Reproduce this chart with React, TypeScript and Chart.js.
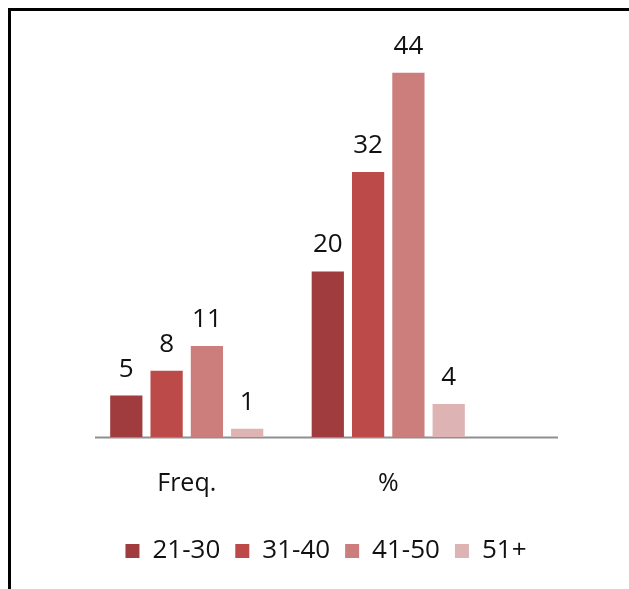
import React, { useEffect, useRef } from "react";
import { Chart, registerables } from "chart.js";

Chart.register(...registerables);

const categories = ["Freq.", "%"];
const seriesLabels = ["21-30", "31-40", "41-50", "51+"];
const series2130 = [5, 20];
const series3140 = [8, 32];
const series4150 = [11, 44];
const series51 = [1, 4];
const seriesValues = [series2130, series3140, series4150, series51];
const seriesColors = ["#A03C3E", "#BC4A48", "#CC7E7D", "#DDB3B3"];
const yMax = 50;

const FONT = "'Open Sans', 'Noto Sans', sans-serif";

const baselinePlugin = {
  id: "baseline",
  beforeDatasetsDraw(chart: any) {
    const { ctx, chartArea, scales } = chart;
    const y = Math.round(scales.y.getPixelForValue(0)) + 0.5;
    ctx.save();
    ctx.strokeStyle = "#8f8f8f";
    ctx.lineWidth = 2;
    ctx.beginPath();
    ctx.moveTo(chartArea.left + 9, y);
    ctx.lineTo(chartArea.right + 69, y);
    ctx.stroke();
    ctx.restore();
  },
};

const valueLabelPlugin = {
  id: "valueLabels",
  afterDatasetsDraw(chart: any) {
    const { ctx } = chart;
    ctx.save();
    ctx.fillStyle = "#111";
    ctx.font = `26px ${FONT}`;
    ctx.textAlign = "center";
    ctx.textBaseline = "alphabetic";
    chart.data.datasets.forEach((ds: any, i: number) => {
      const meta = chart.getDatasetMeta(i);
      meta.data.forEach((el: any, j: number) => {
        ctx.fillText(String(ds.data[j]), el.x, el.y - 19);
      });
    });
    ctx.restore();
  },
};

export default function App() {
  const canvasRef = useRef<HTMLCanvasElement | null>(null);

  useEffect(() => {
    if (!canvasRef.current) return;
    const chart = new Chart(canvasRef.current, {
      type: "bar",
      data: {
        labels: categories,
        datasets: seriesLabels.map((label, i) => ({
          label,
          data: seriesValues[i],
          backgroundColor: seriesColors[i],
          borderWidth: 0,
          barPercentage: 0.8,
          categoryPercentage: 0.8,
          yAxisID: "y",
        })),
      },
      options: {
        animation: false,
        responsive: false,
        devicePixelRatio: 1,
        layout: { padding: { left: 12, right: 0, top: 12, bottom: 15 } },
        plugins: {
          legend: {
            position: "bottom",
            labels: {
              boxWidth: 14,
              boxHeight: 14,
              padding: 15,
              color: "#111",
              font: { family: FONT, size: 26 },
            },
          },
          tooltip: { enabled: false },
          title: { display: false },
        },
        scales: {
          x: {
            grid: { display: false },
            border: { display: false },
            ticks: { color: "#111", font: { family: FONT, size: 25 }, padding: 24 },
          },
          y: {
            min: 0,
            max: yMax,
            ticks: { display: false },
            grid: { display: false },
            border: { display: false },
            afterFit: (s: any) => {
              s.width = 63;
            },
          },
          y2: {
            position: "right",
            min: 0,
            max: 1,
            ticks: { display: false },
            grid: { display: false },
            border: { display: false },
            afterFit: (s: any) => {
              s.width = 140;
            },
          },
        },
      },
      plugins: [baselinePlugin, valueLabelPlugin],
    } as any);
    return () => chart.destroy();
  }, []);

  return (
    <div
      style={{
        position: "fixed",
        left: 8,
        top: 8,
        width: 621,
        height: 581,
        borderTop: "3px solid #000",
        borderLeft: "3px solid #000",
        boxSizing: "border-box",
        background: "#fff",
      }}
    >
      <canvas ref={canvasRef} width={618} height={578} style={{ display: "block" }} />
    </div>
  );
}
